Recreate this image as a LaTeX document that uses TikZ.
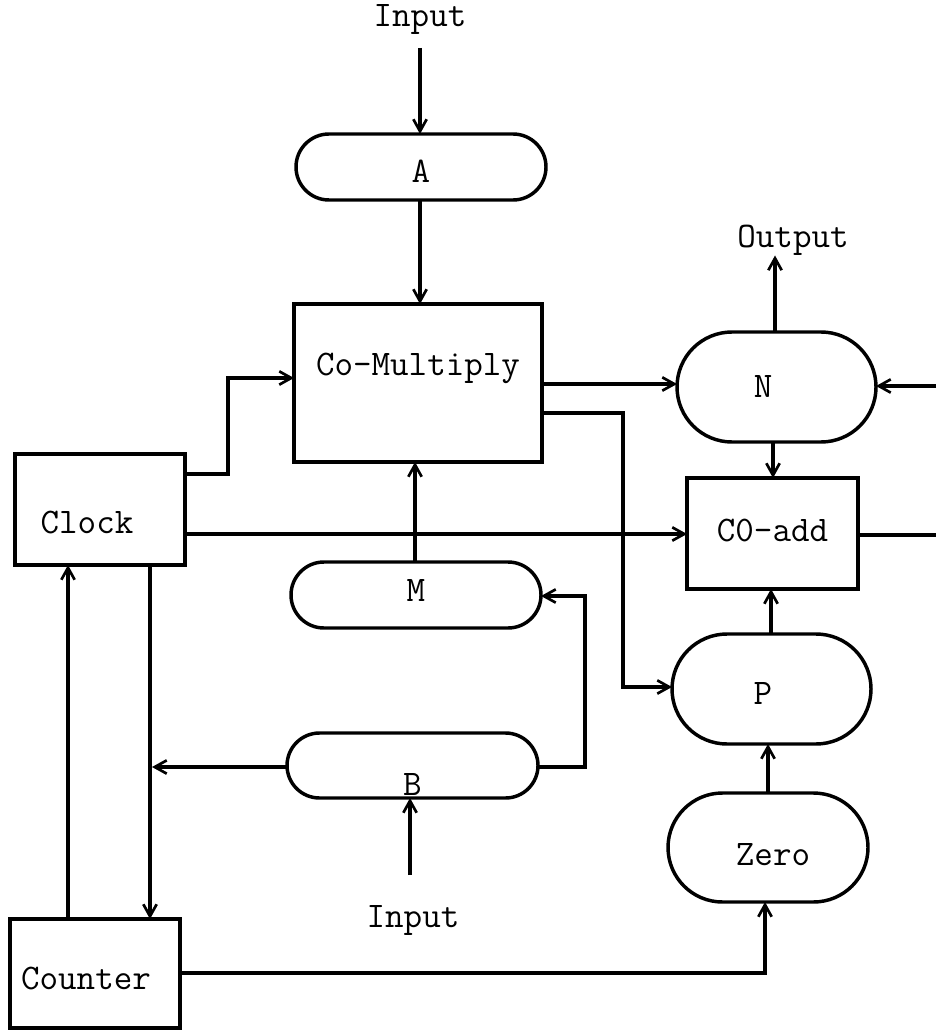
\documentclass[tikz,border=0pt]{standalone}
\usepackage{fontspec}
\usetikzlibrary{arrows.meta}
\tikzset{
  lab/.style={font=\ttfamily\fontsize{27}{30}\selectfont, inner sep=0pt},
  box/.style={draw, line width=2.4pt, rectangle, inner sep=0pt, outer sep=0pt},
  stad/.style={draw, line width=2.6pt, rectangle, inner sep=0pt, outer sep=0pt, rounded corners=#1},
  conn/.style={line width=2.5pt, -{Straight Barb[length=9pt,width=10pt,line width=2pt]}},
  plain/.style={line width=2.5pt},
}
\begin{document}
\begin{tikzpicture}[x=0.75pt,y=-0.75pt]
\useasboundingbox (0,0) rectangle (936,1030);
% nodes
\node[lab] (intop) at (420,20) {Input};
\node[lab] (out) at (793,240) {Output};
\node[lab] (inbot) at (413,920) {Input};
\node[stad=24.75pt, minimum width=187.5pt, minimum height=49.5pt,
  label={[lab,yshift=-3.5pt]center:A}] (A) at (421,167) {};
\node[box, minimum width=186pt, minimum height=118.5pt,
  label={[lab,yshift=11pt]center:Co-Multiply}] (CM) at (418,383) {};
\node[stad=41.25pt, minimum width=149.25pt, minimum height=82.5pt,
  label={[lab,xshift=-10pt]center:N}] (N) at (776.5,387) {};
\node[box, minimum width=128.25pt, minimum height=83.25pt,
  label={[lab,yshift=2.6pt]center:C0-add}] (CA) at (772.5,533.5) {};
\node[box, minimum width=127.5pt, minimum height=83.25pt,
  label={[lab,xshift=-9.75pt,yshift=-10pt]center:Clock}] (CL) at (100,509.5) {};
\node[stad=24.75pt, minimum width=187.5pt, minimum height=49.5pt,
  label={[lab,yshift=3.75pt]center:M}] (M) at (416,595) {};
\node[stad=24.4pt, minimum width=188.25pt, minimum height=48.75pt,
  label={[lab,yshift=-14.6pt]center:B}] (B) at (412.5,765.5) {};
\node[stad=41.25pt, minimum width=149.25pt, minimum height=82.5pt,
  label={[lab,xshift=-6.4pt,yshift=-3pt]center:P}] (P) at (771.5,689) {};
\node[stad=40.9pt, minimum width=150pt, minimum height=81.75pt,
  label={[lab,xshift=3.75pt,yshift=-5.6pt]center:Zero}] (Z) at (768,847.5) {};
\node[box, minimum width=127.5pt, minimum height=81.75pt,
  label={[lab,xshift=-6.75pt,yshift=-3.4pt]center:Counter}] (CT) at (95,973.5) {};
% free ends
\coordinate (intopend) at (420,48);
\coordinate (inbotend) at (410,875);
\coordinate (rightN) at (936,386);
\coordinate (rightCA) at (936,535);
% connectors
\draw[conn] (intopend) -- (intopend |- A.north);
\draw[conn] (A.south -| 420,0) -- (CM.north -| 420,0);
\draw[conn] (CM.east |- 0,384) -- (N.west |- 0,384);
\draw[conn] (CM.east |- 0,413) -- (623,413) -- (623,687) -- (P.west |- 0,687);
\draw[conn] (CL.east |- 0,474) -- (228,474) -- (228,378) -- (CM.west |- 0,378);
\draw[conn] (CL.east |- 0,534) -- (CA.west |- 0,534);
\draw[conn] (N.north -| 775,0) -- (out.south -| 775,0);
\draw[conn] (rightN) -- (N.east |- rightN);
\draw[conn] (N.south -| 773,0) -- (CA.north -| 773,0);
\draw[plain] (CA.east |- rightCA) -- (rightCA);
\draw[conn] (P.north -| 771,0) -- (CA.south -| 771,0);
\draw[conn] (Z.north -| 768,0) -- (P.south -| 768,0);
\draw[conn] (CT.east |- 0,973) -- (765,973) -- (Z.south -| 765,0);
\draw[conn] (CT.north -| 68,0) -- (CL.south -| 68,0);
\draw[conn] (CL.south -| 150,0) -- (CT.north -| 150,0);
\draw[conn] (B.west |- 0,767) -- (152,767);
\draw[conn] (B.east |- 0,767) -- (585,767) -- (585,596) -- (M.east |- 0,596);
\draw[conn] (M.north -| 415,0) -- (CM.south -| 415,0);
\draw[conn] (inbotend) -- (B.south -| inbotend);
\end{tikzpicture}
\end{document}
